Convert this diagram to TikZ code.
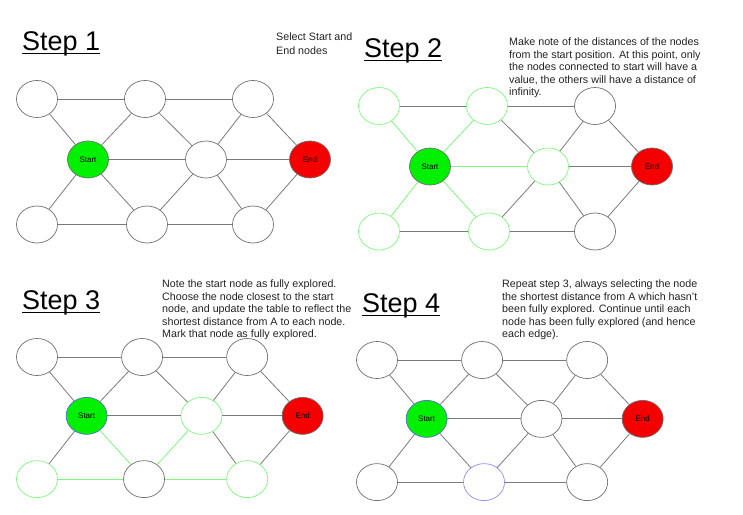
\documentclass[tikz,border=0pt]{standalone}
\usepackage{fontspec}
\setmainfont{Liberation Sans}
\usetikzlibrary{shapes.geometric}
\definecolor{nodegray}{HTML}{6E6E6E}
\definecolor{linkgray}{HTML}{7A7A7A}
\definecolor{startgreen}{HTML}{00F000}
\definecolor{endred}{HTML}{F50000}
\definecolor{seengreen}{HTML}{7CFA7C}
\definecolor{doneblue}{HTML}{5A6AE0}
\definecolor{pickblue}{HTML}{8C8CFF}
\definecolor{notegray}{HTML}{222222}

\begin{document}
\begin{tikzpicture}[x=1pt,y=-1pt,
  vertex/.style={ellipse,draw=nodegray,line width=0.7pt,minimum width=41pt,minimum height=37pt,inner sep=0,font=\fontsize{8}{9}\selectfont},
  start/.style={vertex,fill=startgreen},
  finish/.style={vertex,fill=endred},
  seen/.style={draw=seengreen},
  done/.style={draw=doneblue},
  picked/.style={draw=pickblue},
  link/.style={draw=linkgray,line width=0.8pt},
  greenlink/.style={link,draw=seengreen},
  title/.style={font=\fontsize{27}{31}\selectfont,anchor=base west,inner sep=0},
  note/.style={font=\fontsize{10.7}{12.4}\selectfont,align=left,anchor=north west,inner sep=0,text=notegray},
]
\useasboundingbox (0,0) rectangle (743,514);

\node[title] (t1) at (22,50) {Step 1};
\draw[line width=1.4pt] ([yshift=-3.5pt]t1.base west) -- ([yshift=-3.5pt]t1.base east);
\node[note,font=\fontsize{10.7}{14}\selectfont] (n1) at (276,33) {Select Start and\\End nodes};
\begin{scope}[shift={(37,99)}]
  \node[vertex] (tl1) at (0,0) {};
  \node[vertex] (tm1) at (108,0) {};
  \node[vertex] (tr1) at (216,0) {};
  \node[start] (s1) at (51,60.5) {Start};
  \node[vertex] (m1) at (169,60.5) {};
  \node[finish] (e1) at (273,60.5) {End};
  \node[vertex] (bl1) at (0,125.5) {};
  \node[vertex] (bm1) at (110,125.5) {};
  \node[vertex] (br1) at (216,125.5) {};
\end{scope}
\foreach \a/\b in {tl/tm,tm/tr,tl/s,tm/s,tm/m,tr/m,tr/e,s/m,m/e,s/bl,s/bm,m/bm,m/br,e/br,bl/bm,bm/br}
  \draw[link] (\a1) -- (\b1);

\node[title] (t2) at (364,57) {Step 2};
\draw[line width=1.4pt] ([yshift=-3.5pt]t2.base west) -- ([yshift=-3.5pt]t2.base east);
\node[note] (n2) at (509,38) {Make note of the distances of the nodes\\from the start position. At this point, only\\the nodes connected to start will have a\\value, the others will have a distance of\\infinity.};
\begin{scope}[shift={(379,106)}]
  \node[vertex,seen] (tl2) at (0,0) {};
  \node[vertex,seen] (tm2) at (108,0) {};
  \node[vertex] (tr2) at (216,0) {};
  \node[start] (s2) at (51,60.5) {Start};
  \node[vertex,seen] (m2) at (169,60.5) {};
  \node[finish] (e2) at (273,60.5) {End};
  \node[vertex,seen] (bl2) at (0,125.5) {};
  \node[vertex,seen] (bm2) at (110,125.5) {};
  \node[vertex] (br2) at (216,125.5) {};
\end{scope}
\foreach \a/\b in {tl/tm,tm/tr,tm/m,tr/m,tr/e,m/e,m/bm,m/br,e/br,bl/bm,bm/br}
  \draw[link] (\a2) -- (\b2);
\foreach \a/\b in {tl/s,tm/s,s/m,s/bl,s/bm}
  \draw[greenlink] (\a2) -- (\b2);

\node[title] (t3) at (22,309) {Step 3};
\draw[line width=1.4pt] ([yshift=-3.5pt]t3.base west) -- ([yshift=-3.5pt]t3.base east);
\node[note] (n3) at (162,280) {Note the start node as fully explored.\\Choose the node closest to the start\\node, and update the table to reflect the\\shortest distance from A to each node.\\Mark that node as fully explored.};
\begin{scope}[shift={(37,357)},scale=0.973]
  \node[vertex] (tl3) at (0,0) {};
  \node[vertex] (tm3) at (108,0) {};
  \node[vertex] (tr3) at (216,0) {};
  \node[start,done] (s3) at (51,60.5) {Start};
  \node[vertex,seen] (m3) at (169,60.5) {};
  \node[finish] (e3) at (273,60.5) {End};
  \node[vertex,seen] (bl3) at (0,125.5) {};
  \node[vertex] (bm3) at (110,125.5) {};
  \node[vertex,seen] (br3) at (216,125.5) {};
\end{scope}
\foreach \a/\b in {tl/tm,tm/tr,tl/s,tm/s,tm/m,tr/m,tr/e,s/m,m/e,s/bl,m/br,e/br}
  \draw[link] (\a3) -- (\b3);
\foreach \a/\b in {s/bm,m/bm,bl/bm,bm/br}
  \draw[greenlink] (\a3) -- (\b3);

\node[title] (t4) at (362,312) {Step 4};
\draw[line width=1.4pt] ([yshift=-3.5pt]t4.base west) -- ([yshift=-3.5pt]t4.base east);
\node[note] (n4) at (502,280) {Repeat step 3, always selecting the node\\the shortest distance from A which hasn't\\been fully explored. Continue until each\\node has been fully explored (and hence\\each edge).};
\begin{scope}[shift={(377,360)},scale=0.973]
  \node[vertex] (tl4) at (0,0) {};
  \node[vertex] (tm4) at (108,0) {};
  \node[vertex] (tr4) at (216,0) {};
  \node[start,done] (s4) at (51,60.5) {Start};
  \node[vertex] (m4) at (169,60.5) {};
  \node[finish] (e4) at (273,60.5) {End};
  \node[vertex] (bl4) at (0,125.5) {};
  \node[vertex,picked] (bm4) at (110,125.5) {};
  \node[vertex] (br4) at (216,125.5) {};
\end{scope}
\foreach \a/\b in {tl/tm,tm/tr,tl/s,tm/s,tm/m,tr/m,tr/e,s/m,m/e,s/bl,s/bm,m/bm,m/br,e/br,bl/bm,bm/br}
  \draw[link] (\a4) -- (\b4);
\end{tikzpicture}
\end{document}
